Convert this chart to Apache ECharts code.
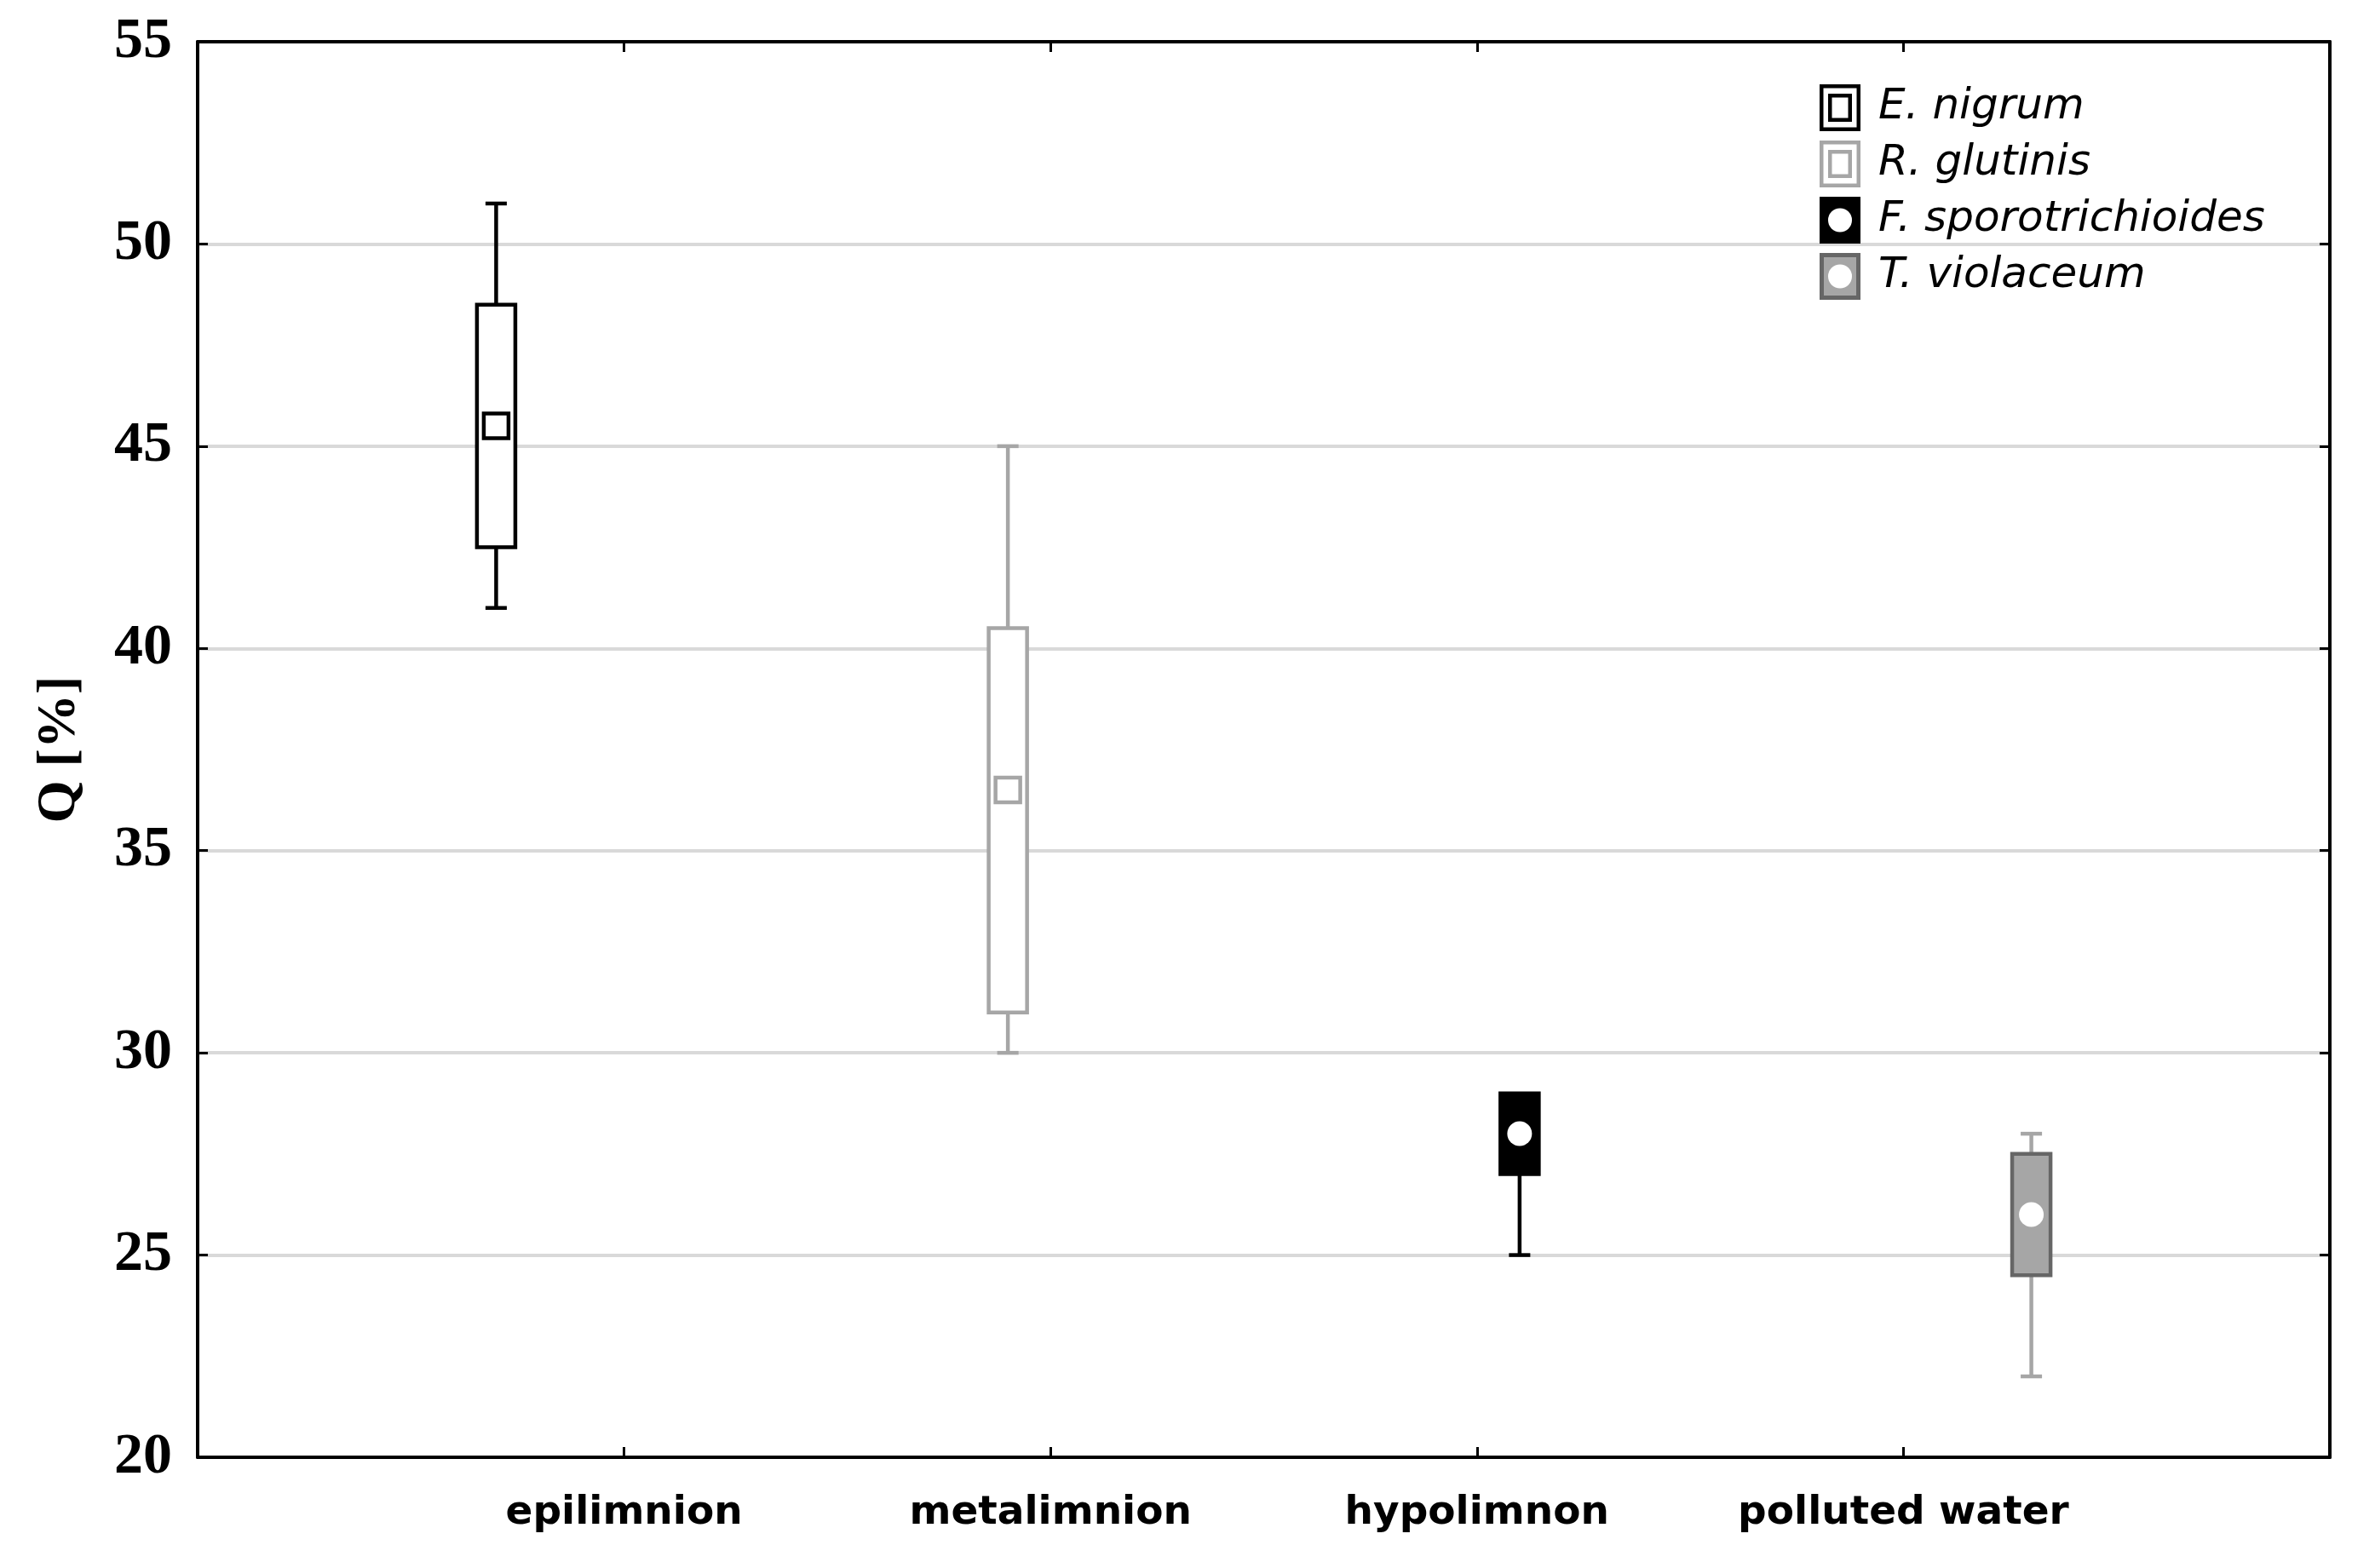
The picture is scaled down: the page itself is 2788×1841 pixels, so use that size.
<!DOCTYPE html>
<html>
<head>
<meta charset="utf-8">
<script src="https://cdn.jsdelivr.net/npm/echarts@6/dist/echarts.min.js"></script>
<style>
html,body{margin:0;padding:0;background:#fff;}
#chart{width:2788px;height:1841px;}
</style>
</head>
<body>
<div id="chart"></div>
<script>
// ---- data ----
const categories = ['epilimnion', 'metalimnion', 'hypolimnon', 'polluted water'];
const species = ['E. nigrum', 'R. glutinis', 'F. sporotrichioides', 'T. violaceum'];
const speciesCategory = [0, 1, 2, 3];
// [min, lower box, middle point, upper box, max]
const eNigrum = [41, 42.5, 45.5, 48.5, 51];
const rGlutinis = [30, 31, 36.5, 40.5, 45];
const fSporotrichioides = [25, 27, 28, 29, 29];
const tViolaceum = [22, 24.5, 26, 27.5, 28];
const yTicks = [20, 25, 30, 35, 40, 45, 50, 55];

// ---- styles ----
const boxStyles = [
  { stroke: '#000000', fill: '#ffffff', whisker: '#000000', marker: 'square', markerStroke: '#000000', markerFill: '#ffffff' },
  { stroke: '#a6a6a6', fill: '#ffffff', whisker: '#a6a6a6', marker: 'square', markerStroke: '#a6a6a6', markerFill: '#ffffff' },
  { stroke: '#000000', fill: '#000000', whisker: '#000000', marker: 'circle', markerFill: '#ffffff' },
  { stroke: '#666666', fill: '#a6a6a6', whisker: '#a6a6a6', marker: 'circle', markerFill: '#ffffff' }
];
const allBoxes = [eNigrum, rGlutinis, fSporotrichioides, tViolaceum];
const groupSlot = 0.2;

function svgIcon(inner) {
  const svg = '<svg xmlns="http://www.w3.org/2000/svg" width="64" height="55" viewBox="0 0 64 55">' + inner + '</svg>';
  return 'image://data:image/svg+xml;charset=utf-8,' + encodeURIComponent(svg);
}
const legendIcons = [
  svgIcon('<rect x="2.25" y="2.25" width="43.5" height="50.5" fill="#fff" stroke="#000" stroke-width="4.5"/><rect x="12.25" y="13.25" width="23.5" height="28.5" fill="#fff" stroke="#000" stroke-width="4.5"/>'),
  svgIcon('<rect x="2.25" y="2.25" width="43.5" height="50.5" fill="#fff" stroke="#a6a6a6" stroke-width="4.5"/><rect x="12.25" y="13.25" width="23.5" height="28.5" fill="#fff" stroke="#a6a6a6" stroke-width="4.5"/>'),
  svgIcon('<rect x="0" y="0" width="48" height="55" fill="#000"/><circle cx="24" cy="27.5" r="14" fill="#fff"/>'),
  svgIcon('<rect x="2.5" y="2.5" width="43" height="50" fill="#a6a6a6" stroke="#666" stroke-width="5"/><circle cx="24" cy="27.5" r="14" fill="#fff"/>')
];

function renderBox(params, api) {
  const st = boxStyles[params.seriesIndex];
  const x = api.value(0);
  const vMin = api.value(1), q1 = api.value(2), mid = api.value(3), q3 = api.value(4), vMax = api.value(5);
  const pMin = api.coord([x, vMin]);
  const pQ1 = api.coord([x, q1]);
  const pMid = api.coord([x, mid]);
  const pQ3 = api.coord([x, q3]);
  const pMax = api.coord([x, vMax]);
  const bw = api.size([0.09, 0])[0];
  const cw = api.size([0.05, 0])[0];
  const cx = pMid[0];
  const lw = 4.5;
  const children = [];
  if (vMax > q3) {
    children.push({ type: 'line', shape: { x1: cx, y1: pMax[1], x2: cx, y2: pQ3[1] }, style: { stroke: st.whisker, lineWidth: lw } });
    children.push({ type: 'line', shape: { x1: cx - cw / 2, y1: pMax[1], x2: cx + cw / 2, y2: pMax[1] }, style: { stroke: st.whisker, lineWidth: lw } });
  }
  if (q1 > vMin) {
    children.push({ type: 'line', shape: { x1: cx, y1: pQ1[1], x2: cx, y2: pMin[1] }, style: { stroke: st.whisker, lineWidth: lw } });
    children.push({ type: 'line', shape: { x1: cx - cw / 2, y1: pMin[1], x2: cx + cw / 2, y2: pMin[1] }, style: { stroke: st.whisker, lineWidth: lw } });
  }
  children.push({ type: 'rect', shape: { x: cx - bw / 2, y: pQ3[1], width: bw, height: pQ1[1] - pQ3[1] }, style: { fill: st.fill, stroke: st.stroke, lineWidth: lw } });
  if (st.marker === 'square') {
    const s = 29;
    children.push({ type: 'rect', shape: { x: cx - s / 2, y: pMid[1] - s / 2, width: s, height: s }, style: { fill: st.markerFill, stroke: st.markerStroke, lineWidth: 4.5 } });
  } else {
    children.push({ type: 'circle', shape: { cx: cx, cy: pMid[1], r: 14.5 }, style: { fill: st.markerFill } });
  }
  return { type: 'group', children: children };
}

const series = species.map((name, i) => ({
  name: name,
  type: 'custom',
  xAxisIndex: 0,
  yAxisIndex: 0,
  renderItem: renderBox,
  itemStyle: { color: boxStyles[i].fill === '#ffffff' ? boxStyles[i].stroke : boxStyles[i].fill },
  encode: { x: 0, y: [1, 2, 3, 4, 5] },
  data: [[speciesCategory[i] + 1 + (i - 1.5) * groupSlot].concat(allBoxes[i])],
  z: 5
}));

const chart = echarts.init(document.getElementById('chart'), null, { renderer: 'canvas' });
const tickStyle = { show: true, inside: true, length: 12, lineStyle: { color: '#000', width: 3 } };
chart.setOption({
  backgroundColor: '#ffffff',
  animation: false,
  grid: { left: 232, right: 53, top: 49, bottom: 130, containLabel: false },
  legend: {
    orient: 'vertical',
    left: 2136,
    top: 99,
    padding: 0,
    itemGap: 11,
    itemWidth: 64,
    itemHeight: 55,
    selectedMode: false,
    align: 'left',
    data: species.map((n, i) => ({ name: n, icon: legendIcons[i] })),
    textStyle: { fontFamily: 'DejaVu Sans', fontStyle: 'italic', fontSize: 50, color: '#000', lineHeight: 55 }
  },
  xAxis: [
    {
      type: 'value', position: 'bottom', min: 0, max: 5, interval: 1,
      axisLine: { show: true, onZero: false, lineStyle: { color: '#000', width: 4 } },
      axisTick: tickStyle,
      splitLine: { show: false },
      axisLabel: {
        show: true, margin: 42,
        formatter: v => categories[v - 1] || '',
        fontFamily: 'DejaVu Sans', fontWeight: 'bold', fontSize: 47, color: '#000'
      }
    },
    {
      type: 'value', position: 'top', min: 0, max: 5, interval: 1,
      axisLine: { show: true, onZero: false, lineStyle: { color: '#000', width: 4 } },
      axisTick: tickStyle,
      splitLine: { show: false },
      axisLabel: { show: false }
    }
  ],
  yAxis: [
    {
      type: 'value', position: 'left', min: yTicks[0], max: yTicks[yTicks.length - 1], interval: 5,
      name: 'Q [%]', nameLocation: 'middle', nameRotate: 90, nameGap: 130,
      nameTextStyle: { fontFamily: 'Liberation Serif', fontWeight: 'bold', fontSize: 64, color: '#000' },
      axisLine: { show: true, onZero: false, lineStyle: { color: '#000', width: 4 } },
      axisTick: tickStyle,
      splitLine: { show: true, lineStyle: { color: '#d9d9d9', width: 4 } },
      axisLabel: { show: true, margin: 30, fontFamily: 'Liberation Serif', fontWeight: 'bold', fontSize: 68, color: '#000' }
    },
    {
      type: 'value', position: 'right', min: yTicks[0], max: yTicks[yTicks.length - 1], interval: 5,
      axisLine: { show: true, onZero: false, lineStyle: { color: '#000', width: 4 } },
      axisTick: tickStyle,
      splitLine: { show: false },
      axisLabel: { show: false }
    }
  ],
  series: series
});
</script>
</body>
</html>
